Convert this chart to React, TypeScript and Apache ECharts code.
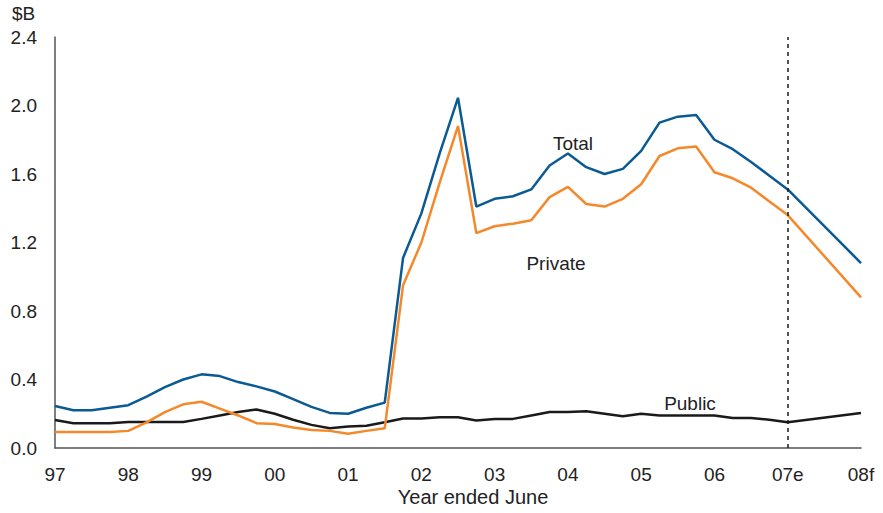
import React, { useEffect, useRef } from "react";
import * as echarts from "echarts";

// Year labels (June quarter of each year); quarterly data between
const tickLabels = ["97", "98", "99", "00", "01", "02", "03", "04", "05", "06", "07e", "08f"];

// Quarterly values, $B, from Jun-97 to Jun-07, then forecast Jun-08 (null = no quarterly point)
const totalValues = [
  0.245, 0.22, 0.22, 0.235, 0.25, 0.3, 0.355, 0.4, 0.43, 0.42, 0.385, 0.36, 0.33, 0.285, 0.24, 0.205,
  0.2, 0.235, 0.265, 1.11, 1.37, 1.72, 2.045, 1.41, 1.455, 1.47, 1.51, 1.65, 1.72, 1.64, 1.6, 1.63,
  1.735, 1.9, 1.935, 1.945, 1.8, 1.745, 1.67, 1.59, 1.51, null, null, null, 1.08,
];
const privateValues = [
  0.093, 0.093, 0.093, 0.093, 0.1, 0.15, 0.21, 0.255, 0.27, 0.23, 0.19, 0.145, 0.14, 0.12, 0.105, 0.1,
  0.083, 0.1, 0.115, 0.95, 1.2, 1.55, 1.88, 1.255, 1.295, 1.31, 1.33, 1.465, 1.525, 1.425, 1.41, 1.455,
  1.54, 1.705, 1.75, 1.76, 1.61, 1.575, 1.52, 1.44, 1.36, null, null, null, 0.88,
];
const publicValues = [
  0.163, 0.145, 0.145, 0.145, 0.152, 0.152, 0.152, 0.152, 0.17, 0.19, 0.21, 0.225, 0.2, 0.165, 0.135, 0.115,
  0.125, 0.13, 0.15, 0.172, 0.172, 0.18, 0.18, 0.16, 0.17, 0.17, 0.19, 0.21, 0.21, 0.215, 0.2, 0.185,
  0.2, 0.19, 0.19, 0.19, 0.19, 0.175, 0.175, 0.165, 0.15, null, null, null, 0.205,
];

const estimateIndex = 40; // Jun-07 (07e)

const FONT = "Liberation Sans, Arial, sans-serif";
const FS = 19;

export default function App() {
  const ref = useRef<HTMLDivElement>(null);

  useEffect(() => {
    document.body.style.margin = "0";
    if (!ref.current) return;
    const chart = echarts.init(ref.current, undefined, { renderer: "svg" });

    const categories: string[] = [];
    tickLabels.forEach((lab, i) => {
      categories.push(lab);
      if (i < tickLabels.length - 1) {
        categories.push(lab + "-Q2", lab + "-Q3", lab + "-Q4");
      }
    });

    const lineStyle = (color: string) => ({ color, width: 2.5 });
    const note = (text: string, x: number, y: number, size: number = FS) => ({
      type: "text",
      x,
      y,
      style: { text, font: `${size}px ${FONT}`, fill: "#222222", align: "center", verticalAlign: "middle" },
    });

    chart.setOption({
      animation: false,
      backgroundColor: "#ffffff",
      textStyle: { fontFamily: FONT },
      grid: { left: 55, right: 22, top: 37, bottom: 65, containLabel: false },
      xAxis: {
        type: "category",
        data: categories,
        boundaryGap: false,
        axisLine: { show: true, lineStyle: { color: "#555555", width: 1.5 } },
        axisTick: { show: false },
        axisLabel: {
          interval: 3,
          margin: 17,
          fontSize: FS,
          color: "#222222",
          fontFamily: FONT,
          formatter: (_v: string, idx: number) => (idx % 4 === 0 ? tickLabels[idx / 4] : ""),
        },
        splitLine: { show: false },
      },
      yAxis: {
        type: "value",
        min: 0,
        max: 2.4,
        interval: 0.4,
        axisLine: { show: true, lineStyle: { color: "#555555", width: 1.5 } },
        axisTick: { show: false },
        axisLabel: {
          margin: 18,
          fontSize: FS,
          color: "#222222",
          fontFamily: FONT,
          formatter: (v: number) => v.toFixed(1),
        },
        splitLine: { show: false },
      },
      series: [
        {
          name: "Public",
          type: "line",
          data: publicValues,
          connectNulls: true,
          showSymbol: false,
          symbol: "none",
          lineStyle: lineStyle("#1a1a1a"),
          z: 2,
          markLine: {
            silent: true,
            symbol: ["none", "none"],
            label: { show: false },
            lineStyle: { color: "#1a1a1a", type: [4, 4], width: 1.5 },
            data: [{ xAxis: estimateIndex }],
          },
        },
        {
          name: "Private",
          type: "line",
          data: privateValues,
          connectNulls: true,
          showSymbol: false,
          symbol: "none",
          lineStyle: lineStyle("#f5882a"),
          z: 3,
        },
        {
          name: "Total",
          type: "line",
          data: totalValues,
          connectNulls: true,
          showSymbol: false,
          symbol: "none",
          lineStyle: lineStyle("#0a5a94"),
          z: 4,
        },
      ],
      graphic: [
        {
          type: "text",
          left: 12,
          top: 4,
          style: { text: "$B", font: `${FS}px ${FONT}`, fill: "#222222" },
        },
        note("Year ended June", 473, 497, 20),
        note("Total", 573, 143),
        note("Private", 556, 263),
        note("Public", 690, 403),
      ],
    });

    return () => chart.dispose();
  }, []);

  return <div ref={ref} style={{ width: 883, height: 513 }} />;
}
